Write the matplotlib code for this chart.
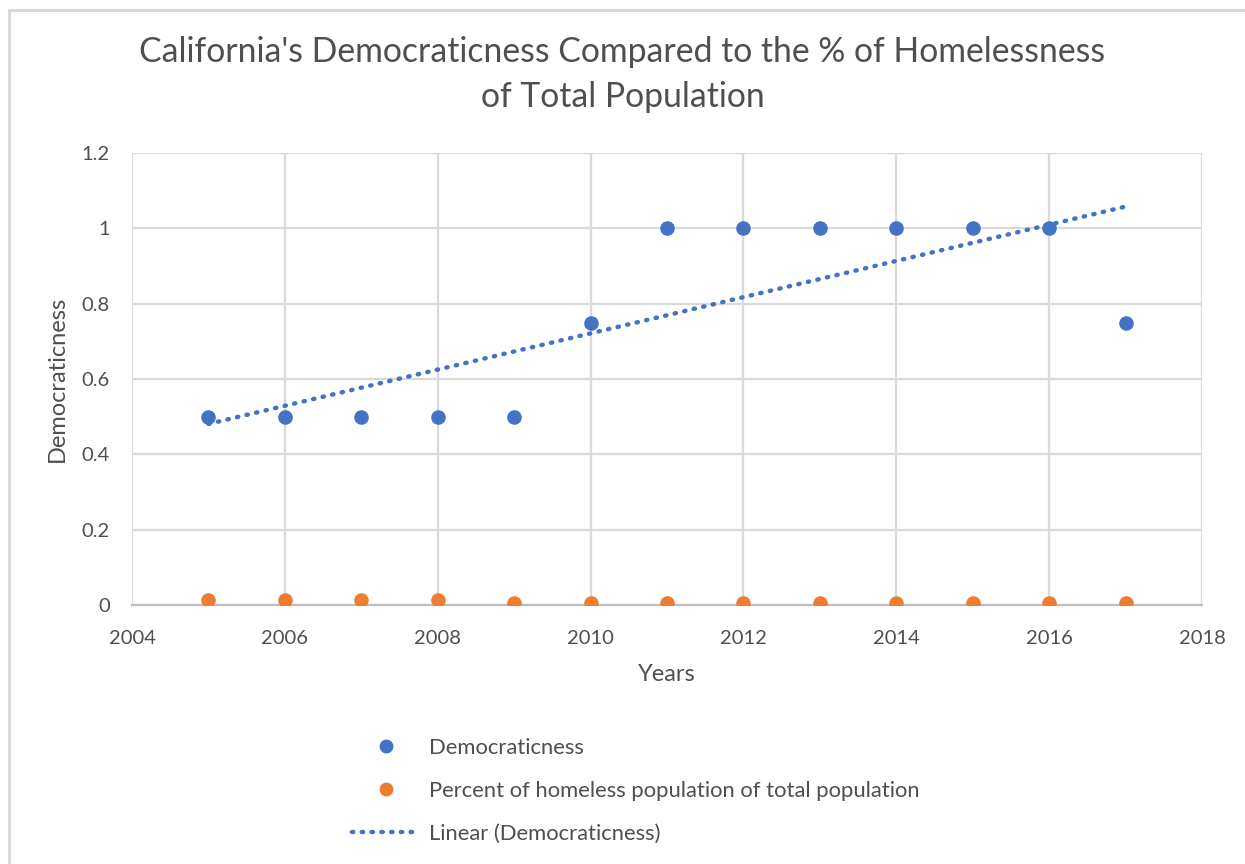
import numpy as np
import matplotlib
matplotlib.use("Agg")
import matplotlib.pyplot as plt
from matplotlib.lines import Line2D
from matplotlib.patches import Rectangle

plt.rcParams['font.family'] = ['Lato', 'DejaVu Sans']

years = [2005, 2006, 2007, 2008, 2009, 2010, 2011, 2012, 2013, 2014, 2015, 2016, 2017]
democraticness = [0.5, 0.5, 0.5, 0.5, 0.5, 0.75, 1, 1, 1, 1, 1, 1, 0.75]
homeless_pct = [0.013, 0.013, 0.013, 0.013, 0.006, 0.006, 0.006, 0.006,
                0.006, 0.006, 0.006, 0.006, 0.006]

title_lines = ["California's Democraticness Compared to the % of Homelessness",
               "of Total Population"]
x_ticks = [2004, 2006, 2008, 2010, 2012, 2014, 2016, 2018]
y_ticks = [0, 0.2, 0.4, 0.6, 0.8, 1, 1.2]
y_tick_labels = ["0", "0.2", "0.4", "0.6", "0.8", "1", "1.2"]

BLUE = "#4472C4"
ORANGE = "#ED7D31"
TEXT = "#4F4F4F"
GRID = "#D9D9D9"
DOTS = (0, (0.3, 1.9))

W, H = 1245, 864
fig = plt.figure(figsize=(W / 100, H / 100), dpi=100)
fig.patch.set_facecolor("white")

# chart-area frame (only top and left edges fall inside the canvas)
fig.add_artist(Rectangle((8.5 / W, -0.1), 1.2, 1.1 - 9.5 / H, transform=fig.transFigure,
                         fill=False, edgecolor="#D9D9D9", linewidth=2.2))

left, right, top, bottom = 132, 1202, 153, 605
ax = fig.add_axes([left / W, 1 - bottom / H, (right - left) / W, (bottom - top) / H])

ax.set_xlim(2004, 2018)
ax.set_ylim(0, 1.2)
ax.set_xticks(x_ticks)
ax.set_yticks(y_ticks)
ax.set_yticklabels(y_tick_labels)
ax.grid(True, color=GRID, linewidth=1.6)
ax.set_axisbelow(True)
for side, sp in ax.spines.items():
    if side == "bottom":
        sp.set_color("#BFBFBF")
        sp.set_linewidth(1.6)
    else:
        sp.set_visible(False)
ax.tick_params(length=0, colors=TEXT, labelsize=14.5)
ax.tick_params(axis='x', pad=18)
ax.tick_params(axis='y', pad=16)

ax.scatter(years, democraticness, s=110, color=BLUE, zorder=3, linewidths=0)
ax.scatter(years, homeless_pct, s=110, color=ORANGE, zorder=3, linewidths=0)

# least-squares linear trend of the democraticness series
slope, intercept = np.polyfit(years, democraticness, 1)
tx = np.array([years[0], years[-1]])
ax.plot(tx, slope * tx + intercept, color=BLUE, linewidth=3.2,
        linestyle=DOTS, dash_capstyle='round', zorder=2)

ax.set_xlabel("Years", fontsize=17, color=TEXT, labelpad=12)
ax.set_ylabel("Democraticness", fontsize=17, color=TEXT, labelpad=10)

fig.text(0.5, 1 - 52 / H, title_lines[0], ha="center", va="center",
         fontsize=24.3, color=TEXT)
fig.text(0.5, 1 - 97 / H, title_lines[1], ha="center", va="center",
         fontsize=24.3, color=TEXT)

handles = [
    Line2D([], [], linestyle="none", marker="o", markersize=10, color=BLUE, markeredgewidth=0),
    Line2D([], [], linestyle="none", marker="o", markersize=10, color=ORANGE, markeredgewidth=0),
    Line2D([], [], color=BLUE, linewidth=3.2, linestyle=DOTS, dash_capstyle='round'),
]
labels = ["Democraticness", "Percent of homeless population of total population",
          "Linear (Democraticness)"]
leg = fig.legend(handles, labels, loc="upper left",
                 bbox_to_anchor=(341 / W, 1 - 727 / H), frameon=False,
                 fontsize=15.8, handlelength=3.1, handletextpad=0.4,
                 labelspacing=1.05, borderpad=0)
for t in leg.get_texts():
    t.set_color(TEXT)

fig.savefig("out.png", dpi=100)
